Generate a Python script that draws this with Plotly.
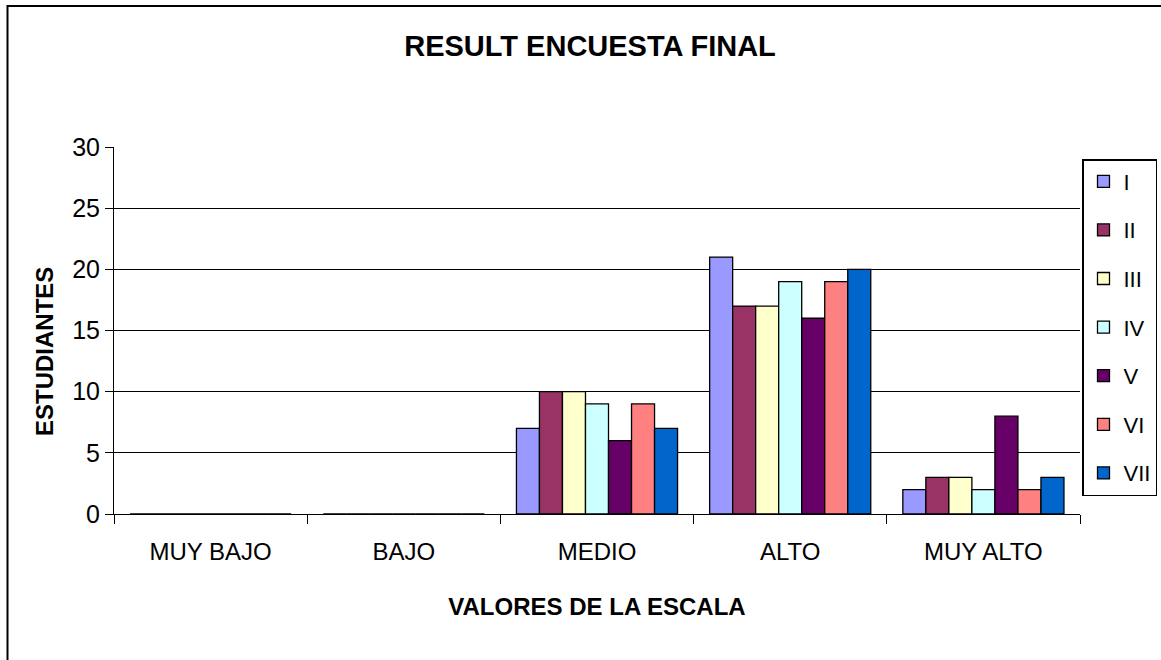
import plotly.graph_objects as go

# categories on the scale and the seven groups
categories = ["MUY BAJO", "BAJO", "MEDIO", "ALTO", "MUY ALTO"]
series_names = ["I", "II", "III", "IV", "V", "VI", "VII"]

# students per group for each category
values_I = [0, 0, 7, 21, 2]
values_II = [0, 0, 10, 17, 3]
values_III = [0, 0, 10, 17, 3]
values_IV = [0, 0, 9, 19, 2]
values_V = [0, 0, 6, 16, 8]
values_VI = [0, 0, 9, 19, 2]
values_VII = [0, 0, 7, 20, 3]

series_values = [values_I, values_II, values_III, values_IV,
                 values_V, values_VI, values_VII]
series_colors = ["#9999FF", "#993366", "#FFFFCC", "#CCFFFF",
                 "#660066", "#FF8080", "#0066CC"]

FONT = "Liberation Sans, Arial, sans-serif"

W, H = 1161, 660
# plot area in page pixels
PLOT_L, PLOT_R, PLOT_T, PLOT_B = 114, 1080, 147, 514
PW, PH = PLOT_R - PLOT_L, PLOT_B - PLOT_T


def px_x(x):
    return (x - PLOT_L) / PW


def px_y(y):
    return (PLOT_B - y) / PH


fig = go.Figure()

for name, vals, color in zip(series_names, series_values, series_colors):
    fig.add_trace(
        go.Bar(
            x=categories,
            y=vals,
            name=name,
            legendgroup=name,
            marker=dict(color=color, line=dict(color="black", width=1.3)),
        )
    )

fig.update_layout(
    width=W,
    height=H,
    paper_bgcolor="white",
    plot_bgcolor="white",
    barmode="group",
    bargap=0.166,
    bargroupgap=0,
    margin=dict(l=PLOT_L, r=W - PLOT_R, t=PLOT_T, b=H - PLOT_B,
                autoexpand=False),
    font=dict(family=FONT, color="black", size=24),
    title=dict(
        text="<b>RESULT ENCUESTA FINAL</b>",
        x=590 / W,
        xanchor="center",
        y=1 - 45.5 / H,
        yanchor="middle",
        font=dict(family=FONT, size=29, color="black"),
    ),
    legend=dict(
        x=px_x(1082),
        xanchor="left",
        y=px_y(159),
        yanchor="top",
        bgcolor="white",
        bordercolor="black",
        borderwidth=1.5,
        font=dict(family=FONT, size=22, color="black"),
        tracegroupgap=17,
        traceorder="grouped",
        itemwidth=30,
    ),
    showlegend=True,
)

fig.update_xaxes(
    type="category",
    showline=True,
    linecolor="black",
    linewidth=1,
    showgrid=False,
    ticks="outside",
    tickson="boundaries",
    ticklen=9,
    tickcolor="black",
    tickwidth=1,
    ticklabelstandoff=16,
    tickfont=dict(family=FONT, size=24, color="black"),
    title=dict(
        text="<b>VALORES DE LA ESCALA</b>",
        font=dict(family=FONT, size=24, color="black"),
        standoff=34,
    ),
)

fig.update_yaxes(
    range=[0, 30],
    dtick=5,
    showline=True,
    linecolor="black",
    linewidth=1,
    showgrid=True,
    gridcolor="black",
    gridwidth=1,
    zeroline=False,
    ticks="outside",
    ticklen=8,
    tickcolor="black",
    tickwidth=1,
    ticklabelstandoff=0,
    tickfont=dict(family=FONT, size=25, color="black"),
)

# y axis title placed where the reference has it
fig.add_annotation(
    text="<b>ESTUDIANTES</b>",
    xref="paper",
    yref="paper",
    x=px_x(44),
    y=px_y(352),
    xanchor="center",
    yanchor="middle",
    textangle=-90,
    showarrow=False,
    font=dict(family=FONT, size=24, color="black"),
)

# outer chart frame (cut off at the right and bottom in the reference)
fig.add_shape(
    type="rect",
    xref="paper",
    yref="paper",
    x0=px_x(7.5),
    x1=1.3,
    y0=-0.6,
    y1=px_y(6),
    line=dict(color="black", width=2),
    fillcolor="rgba(0,0,0,0)",
    layer="below",
)

# drop the default 8px page margin so the figure fills the window exactly
fig.write_html(
    "out.html",
    config={"displayModeBar": False},
    post_script="document.body.style.margin = '0';",
)
